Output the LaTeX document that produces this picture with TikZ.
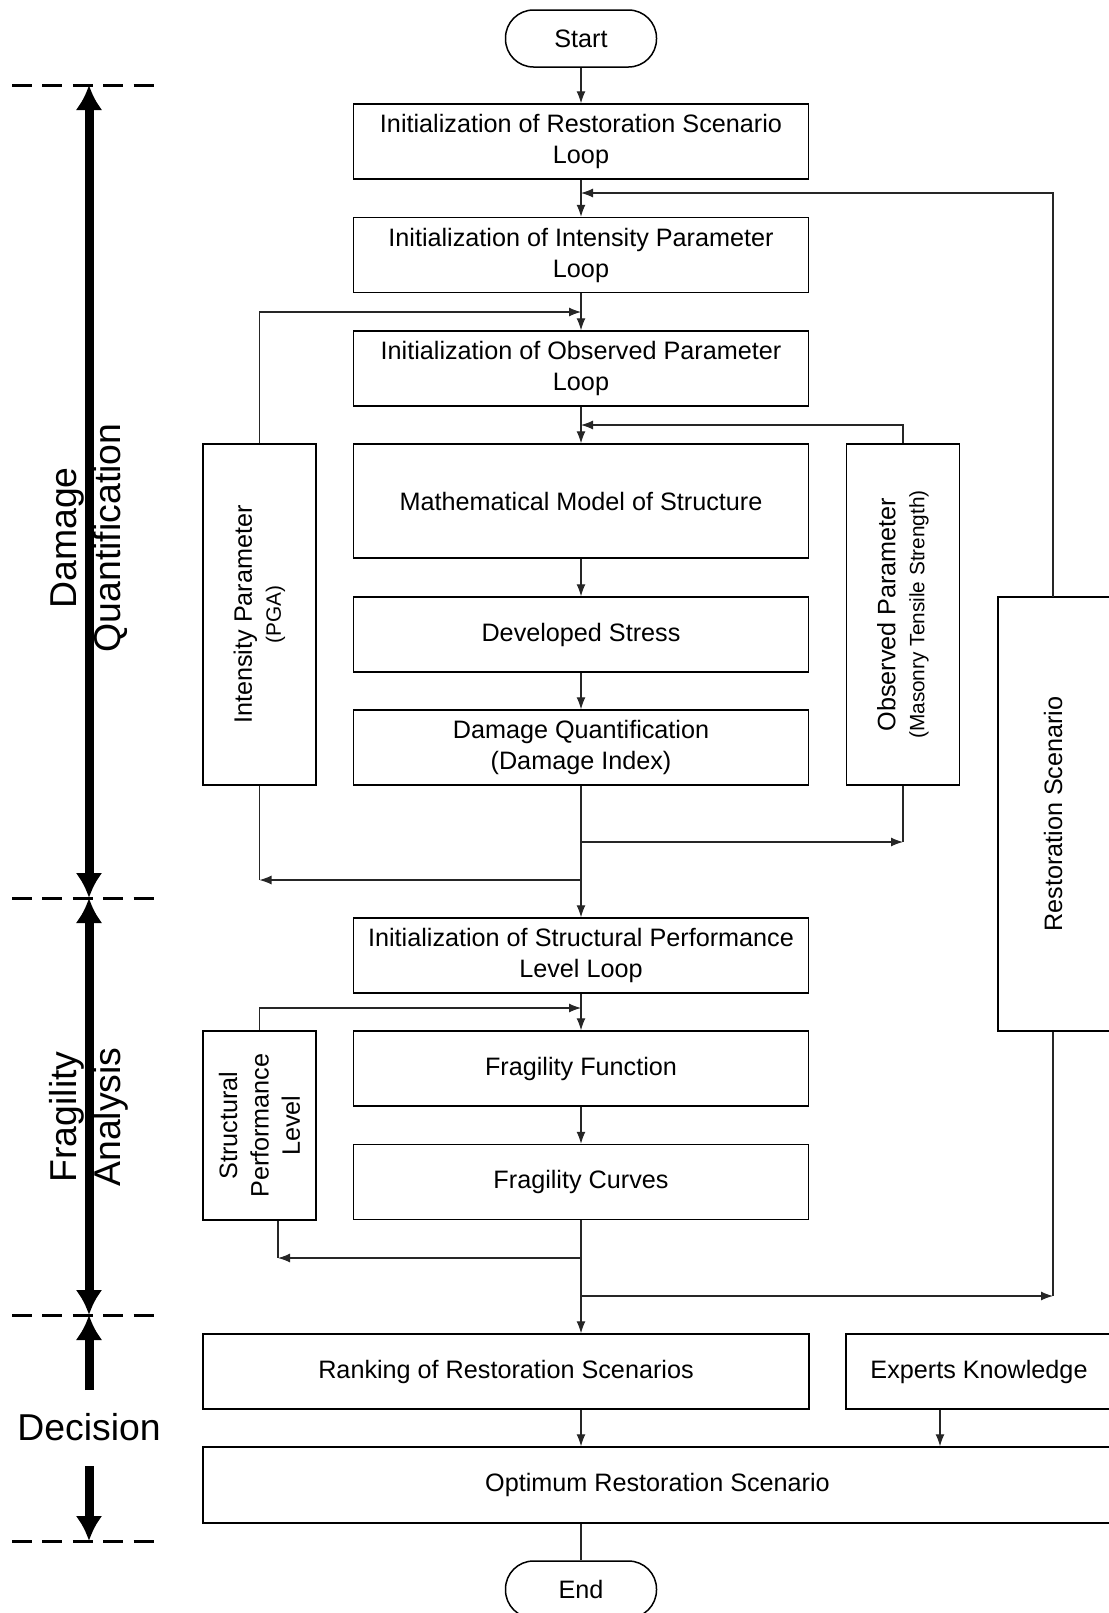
\documentclass[tikz,border=0pt]{standalone}
\usepackage{fontspec}
\setmainfont{Liberation Sans}
\usetikzlibrary{arrows.meta}
\begin{document}
\begin{tikzpicture}[x=0.5pt,y=-0.5pt,
  box/.style={draw=black, line width=0.75pt, align=center, inner sep=0pt,
    font=\fontsize{12.6}{15.5}\selectfont},
  mainbox/.style={box, minimum width=227.5pt, minimum height=37.5pt},
  term/.style={box, minimum width=75.5pt, minimum height=28.5pt, rounded corners=14pt},
  sidebox/.style={box, rotate=90, minimum height=56.5pt},
  arr/.style={draw=black!85, line width=0.55pt, -{Latex[length=6pt,width=4.5pt]}},
  ln/.style={draw=black!85, line width=0.55pt},
  bigarr/.style={line width=4.5pt, {Latex[length=12.5pt,width=13.5pt]}-{Latex[length=12.5pt,width=13.5pt]}},
  bigone/.style={line width=4.5pt, -{Latex[length=12.5pt,width=13.5pt]}},
  dline/.style={line width=1.5pt, dash pattern=on 10pt off 5.2pt},
  big/.style={align=center, font=\fontsize{18.7}{22}\selectfont, inner sep=0pt}
]
\useasboundingbox (0,0) rectangle (1109,1613);
\clip (0,0) rectangle (1109,1613);

% main column
\node[term] (start) at (581,38.5) {Start};
\node[mainbox] (b1) at (581,141.5) {Initialization of Restoration Scenario\\Loop};
\node[mainbox] (b2) at (581,255) {Initialization of Intensity Parameter\\Loop};
\node[mainbox] (b3) at (581,368.5) {Initialization of Observed Parameter\\Loop};
\node[mainbox, minimum height=57pt] (math) at (581,501) {Mathematical Model of Structure};
\node[mainbox] (dev) at (581,634.5) {Developed Stress};
\node[mainbox] (dmg) at (581,747.5) {Damage Quantification\\(Damage Index)};
\node[mainbox] (isp) at (581,955.5) {Initialization of Structural Performance\\Level Loop};
\node[mainbox] (ff) at (581,1068.5) {Fragility Function};
\node[mainbox] (fc) at (581,1182) {Fragility Curves};
\node[box, minimum width=303pt, minimum height=37.5pt] (rank) at (506,1371.5) {Ranking of Restoration Scenarios};
\node[box, minimum width=133pt, minimum height=37.5pt] (exp) at (979,1371.5) {Experts Knowledge};
\node[box, minimum width=454.5pt, minimum height=38pt] (opt) at (657.5,1485) {Optimum Restoration Scenario};
\node[term] (end) at (581,1589.5) {End};

% side boxes
\node[sidebox, minimum width=170.5pt, font=\fontsize{12.6}{14.5}\selectfont] (ip) at (259.5,614.5)
  {Intensity Parameter\\\fontsize{10.4}{14.5}\selectfont (PGA)};
\node[sidebox, minimum width=170.5pt, font=\fontsize{12.6}{14.5}\selectfont] (op) at (903,614.5)
  {Observed Parameter\\\fontsize{10.4}{14.5}\selectfont (Masonry Tensile Strength)};
\node[sidebox, minimum width=94.5pt, font=\fontsize{12.6}{15.7}\selectfont] (spl) at (259.5,1125.5)
  {Structural\\Performance\\Level};
\node[box, minimum width=66pt, minimum height=217pt] (rs) at (1064,814) {};
\node[box, draw=none, rotate=90] (rslabel) at (1053,814) {Restoration Scenario};

% junction coordinates
\coordinate (j1) at (581,193);
\coordinate (j2) at (581,312);
\coordinate (j3) at (581,425);
\coordinate (j4) at (581,842);
\coordinate (j5) at (581,880);
\coordinate (j6) at (581,1008);
\coordinate (j7) at (581,1258);
\coordinate (j8) at (581,1296);
\coordinate (opEnd) at (903,842);
\coordinate (ipEnd) at (259.5,880);
\coordinate (splEnd) at (278,1258);
\coordinate (rsEnd) at (1053,1296);
\coordinate (rsTop) at (1053,597);
\coordinate (exX) at (940,1409);

% main flow
\draw[arr] (start) -- (b1);
\draw[arr] (b1) -- (b2);
\draw[arr] (b2) -- (b3);
\draw[arr] (b3) -- (math);
\draw[arr] (math) -- (dev);
\draw[arr] (dev) -- (dmg);
\draw[arr] (dmg) -- (isp);
\draw[arr] (isp) -- (ff);
\draw[arr] (ff) -- (fc);
\draw[arr] (fc.south) -- (rank.north -| fc);
\draw[arr] (rank.south -| fc) -- (opt.north -| fc);
\draw[arr] (exp.south -| exX) -- (opt.north -| exX);
\draw[ln] (opt.south -| end) -- (end.north);

% loops
\draw[arr] (rsTop) |- (j1);
\draw[arr] (ip.east) |- (j2);
\draw[arr] (op.east) |- (j3);
\draw[ln] (op.west) -- (opEnd);
\draw[arr] (j4) -- (opEnd);
\draw[ln] (ip.west) -- (ipEnd);
\draw[arr] (j5) -- (ipEnd);
\draw[arr] (spl.east) |- (j6);
\draw[ln] (spl.west -| splEnd) -- (splEnd);
\draw[arr] (j7) -- (splEnd);
\draw[ln] (rs.south -| rsEnd) -- (rsEnd);
\draw[arr] (j8) -- (rsEnd);

% phase markers
\draw[dline] (12,85) -- (154,85);
\draw[dline] (12,898) -- (154,898);
\draw[dline] (12,1315) -- (154,1315);
\draw[dline] (12,1541) -- (154,1541);
\draw[bigarr] (89,85) -- (89,898);
\draw[bigarr] (89,898) -- (89,1315);
\draw[bigone] (89,1390) -- (89,1315);
\draw[bigone] (89,1466) -- (89,1541);
\node[big, rotate=90] (dq) at (89,538) {Damage\\Quantification};
\node[big, rotate=90] (fa) at (89,1117) {Fragility\\Analysis};
\node[big] (dec) at (89,1427) {Decision};
\end{tikzpicture}
\end{document}
